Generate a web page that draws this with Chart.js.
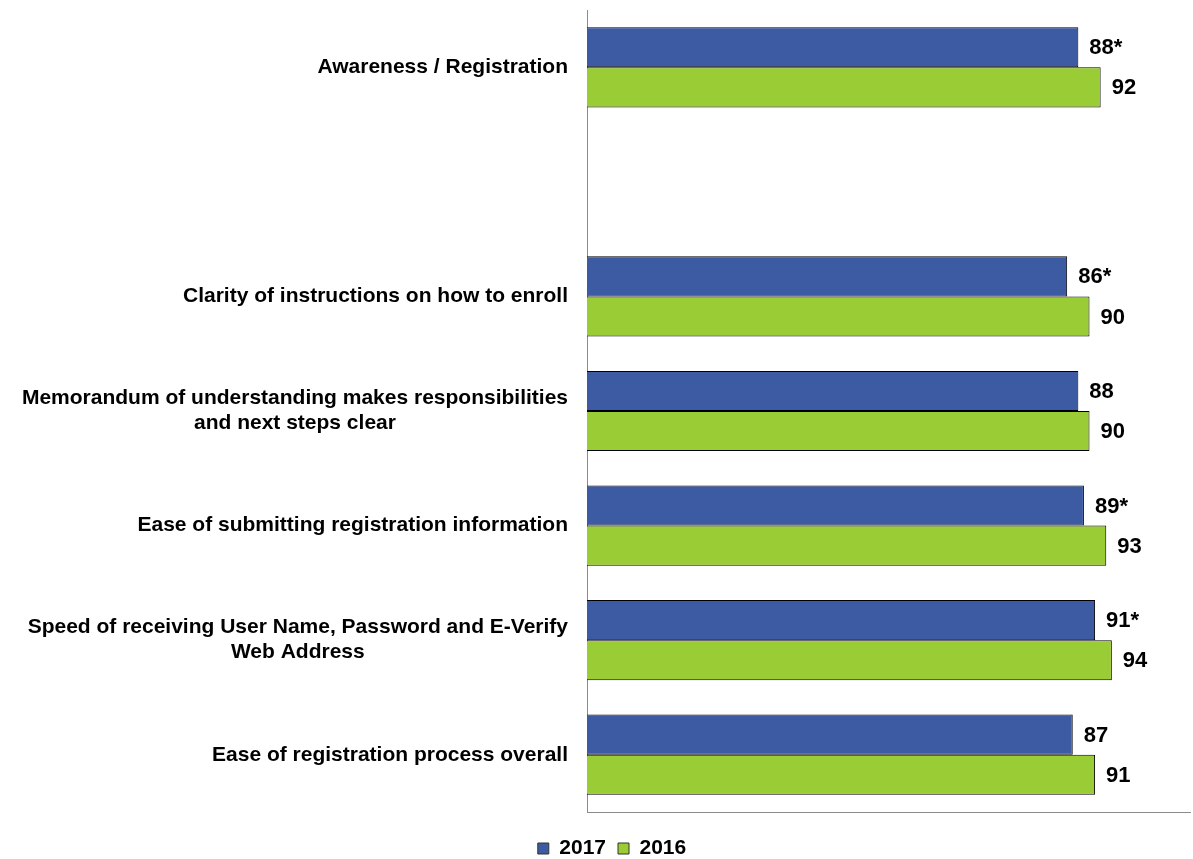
<!DOCTYPE html>
<html>
<head>
<meta charset="utf-8">
<script src="https://cdn.jsdelivr.net/npm/chart.js@4"></script>
<style>
  html, body { margin: 0; padding: 0; background: #fff; overflow: hidden; }
  #wrap { width: 1193px; height: 869px; }
</style>
</head>
<body>
<div id="wrap"><canvas id="myBarChart"></canvas></div>
<script>
// data
const categories = [
    ['Awareness / Registration'],
    [''],
    ['Clarity of instructions on how to enroll'],
    ['Memorandum of understanding makes responsibilities', 'and next steps clear'],
    ['Ease of submitting registration information'],
    ['Speed of receiving User Name, Password and E-Verify', 'Web Address'],
    ['Ease of registration process overall']
];
const values2017 = [88, null, 86, 88, 89, 91, 87];
const values2016 = [92, null, 90, 90, 93, 94, 91];
// asterisk = significant change vs 2016
const sig2017 = [true, false, true, false, true, true, false];
const sig2016 = [false, false, false, false, false, false, false];

const FONT = '"Liberation Sans", Arial, sans-serif';

// category labels, right aligned as a block with centered lines
const catLabels = {
    id: 'catLabels',
    afterDraw(chart) {
        const ctx = chart.ctx;
        const yScale = chart.scales.y;
        const right = chart.chartArea.left - 19;
        ctx.save();
        ctx.font = 'bold 21px ' + FONT;
        ctx.fillStyle = '#000';
        ctx.textBaseline = 'middle';
        ctx.textAlign = 'center';
        categories.forEach((lines, i) => {
            const yc = yScale.getPixelForValue(i);
            const w = Math.max(...lines.map(l => ctx.measureText(l).width));
            const cx = right - w / 2;
            const lh = 25;
            lines.forEach((l, j) => {
                ctx.fillText(l, cx, yc + (j - (lines.length - 1) / 2) * lh);
            });
        });
        ctx.restore();
    }
};

// value labels at the end of each bar
const valueLabels = {
    id: 'valueLabels',
    afterDatasetsDraw(chart) {
        const ctx = chart.ctx;
        const sigs = [sig2017, sig2016];
        ctx.save();
        ctx.font = 'bold 22px ' + FONT;
        ctx.fillStyle = '#000';
        ctx.textBaseline = 'middle';
        ctx.textAlign = 'left';
        chart.data.datasets.forEach((ds, d) => {
            const meta = chart.getDatasetMeta(d);
            meta.data.forEach((bar, i) => {
                const v = ds.data[i];
                if (v === null) return;
                ctx.fillText(v + (sigs[d][i] ? '*' : ''), bar.x + 11, bar.y + 1);
            });
        });
        ctx.restore();
    }
};

const barCtx = document.getElementById('myBarChart').getContext('2d');

const myBarChart = new Chart(barCtx, {
    type: 'bar',
    data: {
        labels: categories,
        datasets: [{
            label: '2017',
            data: values2017,
            backgroundColor: '#3C5BA3',
            borderColor: '#000',
            borderWidth: 1
        }, {
            label: '2016',
            data: values2016,
            backgroundColor: '#9ACC35',
            borderColor: '#000',
            borderWidth: 1
        }]
    },
    options: {
        indexAxis: 'y',
        responsive: true,
        maintainAspectRatio: false,
        animation: false,
        categoryPercentage: 0.7,
        barPercentage: 1.0,
        layout: {
            padding: { left: 34, right: 3, top: 10, bottom: 0 }
        },
        scales: {
            x: {
                min: 0,
                max: 108,
                grid: { display: false },
                ticks: { display: false },
                border: { display: true, color: '#8c8c8c', width: 1 },
                afterFit(scale) { scale.height = 14; }
            },
            y: {
                grid: { display: false },
                ticks: { display: false },
                border: { display: true, color: '#8c8c8c', width: 1 },
                afterFit(scale) { scale.width = 553; }
            }
        },
        plugins: {
            legend: {
                position: 'bottom',
                labels: {
                    boxWidth: 11,
                    boxHeight: 11,
                    padding: 12,
                    color: '#000',
                    font: { family: FONT, size: 21, weight: 'bold' },
                    generateLabels(chart) {
                        return chart.data.datasets.map((ds, i) => ({
                            text: ds.label,
                            fillStyle: ds.backgroundColor,
                            strokeStyle: '#333',
                            lineWidth: 1,
                            datasetIndex: i
                        }));
                    }
                }
            },
            tooltip: { enabled: false }
        }
    },
    plugins: [catLabels, valueLabels]
});
</script>
</body>
</html>
